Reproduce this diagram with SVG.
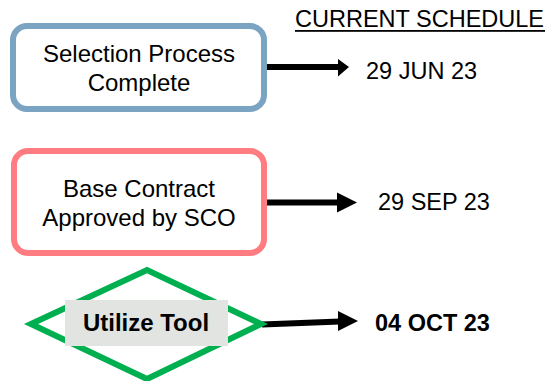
<svg xmlns="http://www.w3.org/2000/svg" width="553" height="381" viewBox="0 0 553 381">
<defs>
<style>
.t{font-family:"Liberation Sans",Arial,sans-serif;font-size:23.5px;fill:#000}
.n{font-size:24px}
.b{font-weight:bold}
.box{fill:#fff;stroke-width:6}
.conn{stroke:#000;stroke-width:6;fill:none}
.head{fill:#000}
</style>
</defs>
<rect width="553" height="381" fill="#fff"/>
<g id="header">
<text class="t n" x="295" y="27" textLength="249" lengthAdjust="spacingAndGlyphs">CURRENT SCHEDULE</text>
<rect x="295" y="30" width="250" height="1.8" fill="#000"/>
</g>
<g id="connectors">
<line class="conn" x1="265" y1="67" x2="340" y2="67"/>
<polygon class="head" points="338,59 349,67 338,76.5"/>
<line class="conn" x1="265" y1="202.5" x2="338" y2="202.5"/>
<polygon class="head" points="337,192.5 357,202.5 337,212.5"/>
<line class="conn" x1="262" y1="324.5" x2="340" y2="321.5"/>
<polygon class="head" points="338,311 358,321 338,331"/>
</g>
<g id="node1">
<rect class="box" x="13" y="26" width="251" height="83" rx="14" stroke="#7BA4C3"/>
<text class="t n" x="139" y="62" text-anchor="middle">Selection Process</text>
<text class="t n" x="139" y="91" text-anchor="middle">Complete</text>
</g>
<g id="date1"><text class="t" x="366" y="79">29 JUN 23</text></g>
<g id="node2">
<rect class="box" x="14" y="151" width="250" height="102" rx="14" stroke="#FF7C80"/>
<text class="t n" x="139" y="197" text-anchor="middle">Base Contract</text>
<text class="t n" x="139" y="226" text-anchor="middle">Approved by SCO</text>
</g>
<g id="date2"><text class="t" x="378" y="210">29 SEP 23</text></g>
<g id="node3">
<polygon points="31,324 147,270 261,324 147,379" fill="#fff" stroke="#00B050" stroke-width="6"/>
<rect x="65" y="300" width="163" height="46" fill="#E1E4E0"/>
<text class="t b n" x="146" y="331" text-anchor="middle">Utilize Tool</text>
</g>
<g id="date3"><text class="t b" x="375" y="331">04 OCT 23</text></g>
</svg>
